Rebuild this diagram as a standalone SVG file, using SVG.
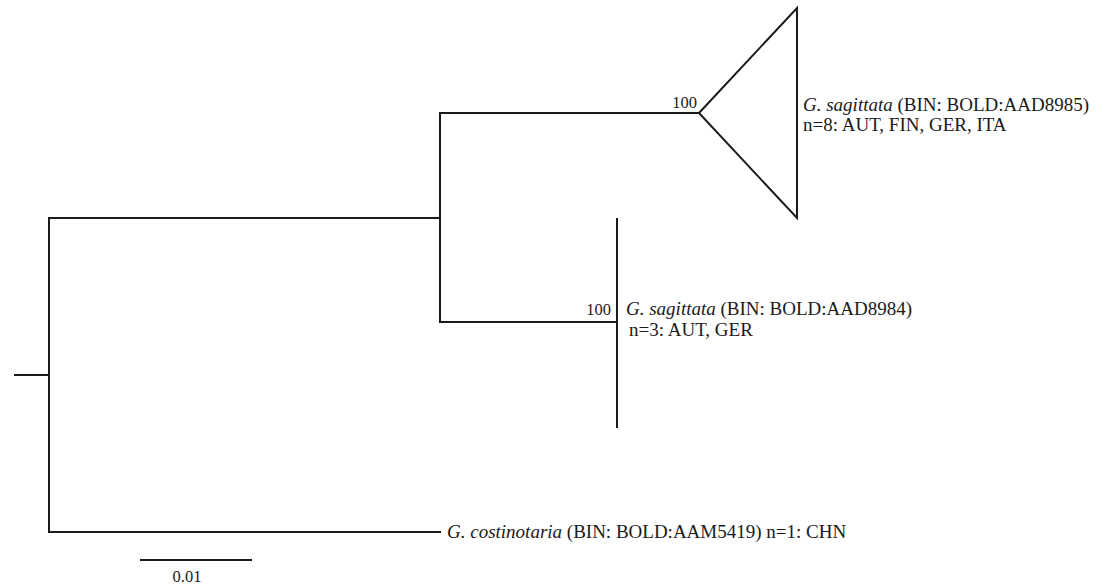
<svg xmlns="http://www.w3.org/2000/svg" width="1108" height="586" viewBox="0 0 1108 586">
<style>
.br{fill:none;stroke:#1a1a1a;stroke-width:2;stroke-linecap:square}
.t{font-family:"Liberation Serif","Times New Roman",serif;font-size:19px;fill:#1a1a1a}
.s{font-family:"Liberation Serif","Times New Roman",serif;font-size:16.5px;fill:#1a1a1a}
.i{font-style:italic}
</style>
<rect width="1108" height="586" fill="#fff"/>
<g id="connectors">
<path class="br" d="M15 375H49M49 218V532M49 218H440M49 532H440M440 113V322M440 113H699M440 322H617"/>
</g>
<g id="clade-AAD8985">
<path class="br" d="M699 113L797 8V218Z" stroke-linejoin="miter"/>
<text class="s" x="697" y="108" text-anchor="end">100</text>
<text class="t" x="803" y="111"><tspan class="i">G. sagittata</tspan> (BIN: BOLD:AAD8985)</text>
<text class="t" x="803" y="131">n=8: AUT, FIN, GER, ITA</text>
</g>
<g id="clade-AAD8984">
<path class="br" d="M617 219V427"/>
<text class="s" x="611" y="315" text-anchor="end">100</text>
<text class="t" x="626" y="315"><tspan class="i">G. sagittata</tspan> (BIN: BOLD:AAD8984)</text>
<text class="t" x="629" y="336">n=3: AUT, GER</text>
</g>
<g id="leaf-AAM5419">
<text class="t" x="447" y="538"><tspan class="i">G. costinotaria</tspan> (BIN: BOLD:AAM5419) n=1: CHN</text>
</g>
<g id="scale">
<path class="br" d="M141 560H251"/>
<text class="s" x="187" y="582" text-anchor="middle">0.01</text>
</g>
</svg>
